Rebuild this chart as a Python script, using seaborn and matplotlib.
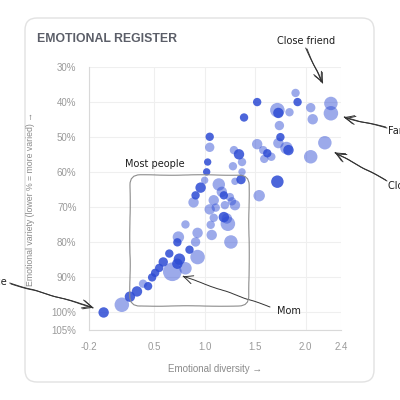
import numpy as np
import pandas as pd
import seaborn as sns
import matplotlib.pyplot as plt
from matplotlib.patches import FancyBboxPatch
from matplotlib.colors import to_rgba

# contacts: emotional diversity (x), emotional variety % (y, lower = more varied)
diversity = [1.90, 1.92, 1.52, 1.72, 1.73, 1.84, 2.05, 2.07, 2.25, 2.25,
             1.39, 1.74, 1.75, 1.73, 1.81, 1.83, 2.19, 2.05, 1.52, 1.58,
             1.62, 1.66, 1.59, 1.29, 1.34, 1.37, 1.28, 1.37, 1.36, 1.30,
             1.72, 1.05, 1.05, 1.03, 1.02, 1.00, 0.96, 0.91, 0.89, 1.14,
             1.09, 1.17, 1.19, 1.25, 1.27, 1.30, 1.05, 1.11, 1.20, 1.09,
             1.19, 1.22, 1.23, 1.06, 0.81, 1.54, 1.07, 1.26, 0.93, 0.74,
             0.73, 0.91, 0.85, 0.93, 0.65, 0.75, 0.73, 0.59, 0.81, 0.68,
             0.55, 0.51, 0.48, 0.44, 0.39, 0.33, 0.26, 0.18, 0.00]
variety = [37.4, 40.0, 40.0, 42.3, 43.1, 42.9, 41.6, 44.9, 40.4, 43.2,
           44.4, 46.7, 50.0, 51.7, 53.1, 53.7, 51.6, 55.6, 52.0, 53.7,
           54.6, 55.6, 56.2, 53.7, 54.9, 57.1, 58.3, 59.9, 62.1, 62.6,
           62.7, 49.9, 52.9, 57.1, 59.9, 62.3, 64.4, 66.6, 68.6, 63.5,
           68.0, 65.6, 66.6, 67.1, 68.3, 69.4, 70.6, 70.1, 69.4, 73.0,
           72.8, 73.2, 74.7, 75.0, 74.9, 66.7, 77.9, 79.9, 77.3, 78.5,
           80.0, 79.9, 82.1, 84.2, 83.2, 84.8, 86.1, 85.6, 87.4, 88.4,
           87.3, 88.7, 90.0, 92.5, 91.8, 94.0, 95.5, 97.8, 100.0]
volume = [64, 64, 64, 196, 100, 64, 81, 100, 169, 196,
          64, 81, 64, 100, 144, 100, 169, 169, 100, 64,
          64, 64, 64, 64, 100, 64, 64, 49, 81, 49,
          144, 64, 81, 49, 49, 49, 100, 64, 100, 144,
          100, 100, 64, 64, 64, 100, 100, 64, 64, 64,
          100, 100, 196, 64, 64, 121, 100, 169, 100, 121,
          64, 81, 64, 196, 64, 121, 100, 81, 144, 324,
          64, 64, 64, 64, 64, 100, 100, 196, 100]
active = [0, 1, 1, 0, 1, 0, 0, 0, 0, 0,
          1, 0, 1, 0, 0, 1, 0, 0, 0, 0,
          1, 0, 0, 0, 1, 0, 0, 0, 1, 0,
          1, 1, 0, 1, 1, 0, 1, 1, 0, 0,
          0, 0, 1, 0, 0, 0, 0, 0, 0, 0,
          1, 0, 0, 0, 0, 0, 0, 0, 0, 0,
          1, 0, 1, 0, 1, 1, 1, 1, 0, 0,
          1, 1, 1, 1, 0, 1, 1, 0, 1]

x_ticks = [-0.145, 0.5, 1.0, 1.5, 2.0, 2.35]
x_tick_labels = ['-0.2', '0.5', '1.0', '1.5', '2.0', '2.4']
y_ticks = [30, 40, 50, 60, 70, 80, 90, 100, 105]
y_tick_labels = ['30%', '40%', '50%', '60%', '70%', '80%', '90%', '100%', '105%']

df = pd.DataFrame({'diversity': diversity, 'variety': variety,
                   'volume': volume, 'active': active})

blue = '#2d4bd4'
sns.set_style('white')
plt.rcParams['font.family'] = ['Liberation Sans', 'DejaVu Sans']

fig = plt.figure(figsize=(4, 4), dpi=100)
fig.patch.set_facecolor('white')


def px(x, y):
    # image pixel (top-left origin) -> figure fraction
    return x / 400, 1 - y / 400


# card behind everything
card = FancyBboxPatch(px(25, 382), 349 / 400, 364 / 400,
                      boxstyle='round,pad=0,rounding_size=0.03',
                      transform=fig.transFigure, facecolor='white',
                      edgecolor='#e2e2e2', linewidth=1, zorder=-5)
fig.patches.append(card)

ax = fig.add_axes([0.2225, 0.175, 0.63, 0.6575])
ax.set_facecolor('none')

sns.scatterplot(data=df, x='diversity', y='variety', size='volume',
                sizes=(28, 180), color=blue, linewidth=0, legend=False, ax=ax)
ax.collections[0].set_facecolors([to_rgba(blue, 0.85 if a else 0.47) for a in active])

ax.set_xlim(-0.145, 2.35)
ax.set_ylim(105, 30)
ax.set_xticks(x_ticks)
ax.set_xticklabels(x_tick_labels)
ax.set_yticks(y_ticks)
ax.set_yticklabels(y_tick_labels)
ax.tick_params(length=0, labelsize=7, labelcolor='#9a9a9a', pad=9)
ax.grid(True, color='#efefef', linewidth=0.8)
ax.set_axisbelow(True)
for s in ['top', 'right']:
    ax.spines[s].set_visible(False)
for s in ['left', 'bottom']:
    ax.spines[s].set_color('#d9d9d9')
    ax.spines[s].set_linewidth(0.8)
ax.set_xlabel('Emotional diversity \u2192', fontsize=7, color='#8a8a8a', labelpad=8)
ax.set_ylabel('Emotional variety (lower % = more varied) \u2192', fontsize=6.3,
              color='#8a8a8a', labelpad=12)

fig.text(*px(37, 39), 'EMOTIONAL REGISTER', fontsize=8.8, fontweight='bold',
         color='#5b5e68', va='center', ha='left')

# hand-drawn style annotations
hand = dict(fontsize=7, color='#1e1e1e', family='DejaVu Sans')
arrow = dict(arrowstyle='->,head_length=0.7,head_width=0.3', color='#333333',
             lw=0.7, shrinkA=0, shrinkB=0)


def note(text, tx, ty, ha, x0, y0, x1, y1, double=True):
    fig.text(*px(tx, ty), text, ha=ha, va='center', **hand)
    strokes = [(0, 0), (1.3, 1.0)] if double else [(0, 0)]
    for dx, dy in strokes:
        a = ax.annotate('', xy=(x1 + dx, 400 - y1 - dy), xycoords='figure pixels',
                        xytext=(x0 - dx, 400 - y0 + dy), textcoords='figure pixels',
                        arrowprops=arrow, annotation_clip=False)
        a.arrow_patch.set_sketch_params(scale=0.3, length=50, randomness=4)


note('Close friend', 306, 41, 'center', 307, 49, 322, 83)
note('Family', 388, 131, 'left', 387, 128, 343, 117)
note('Close colleague', 388, 186, 'left', 387, 181, 334, 152)
note('Acquaintance', 8, 282, 'right', 11, 284, 93, 307)
note('Mom', 277, 311, 'left', 270, 307, 182, 276, double=False)
fig.text(*px(155, 164), 'Most people', ha='center', va='center', **hand)

box = FancyBboxPatch(px(130, 306), 119 / 400, 131 / 400,
                     boxstyle='round,pad=0,rounding_size=0.025',
                     transform=fig.transFigure, facecolor='none',
                     edgecolor='#8c8c8c', linewidth=0.8, zorder=5)
box.set_sketch_params(scale=0.25, length=80, randomness=3)
fig.patches.append(box)

fig.savefig('out.png', dpi=100)
